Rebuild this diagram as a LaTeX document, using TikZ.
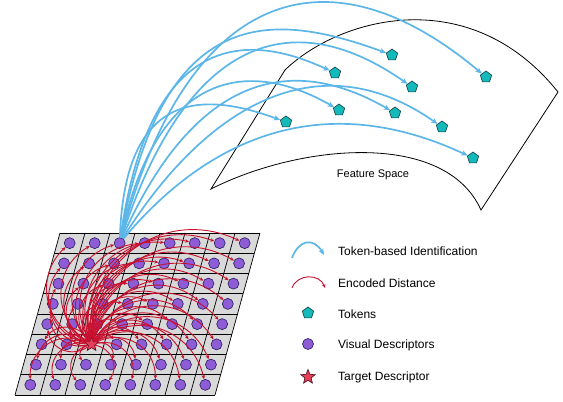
\documentclass[tikz,border=0pt]{standalone}
\usepackage{fontspec}
\setmainfont{Liberation Sans}
\usetikzlibrary{positioning, shapes.geometric, arrows.meta}

\definecolor{cellgray}{RGB}{217,217,217}
\definecolor{descpurple}{RGB}{142,92,214}
\definecolor{descline}{RGB}{40,30,90}
\definecolor{tokteal}{RGB}{20,185,185}
\definecolor{tokline}{RGB}{20,60,70}
\definecolor{tgtred}{RGB}{232,64,90}
\definecolor{tgtline}{RGB}{70,10,25}
\definecolor{identblue}{RGB}{92,182,232}
\definecolor{distred}{RGB}{200,16,46}

\begin{document}
\begin{tikzpicture}[x=1pt, y=1pt,
  descr/.style={circle, draw=descline, fill=descpurple, line width=0.6pt,
    minimum size=11pt, inner sep=0pt},
  token/.style={regular polygon, regular polygon sides=5, draw=tokline,
    fill=tokteal, line width=0.6pt, minimum size=12pt, inner sep=0pt},
  target/.style={star, star points=5, star point ratio=2.3, draw=tgtline,
    fill=tgtred, line width=0.6pt, minimum size=15pt, inner sep=0pt},
  ident/.style={draw=identblue, line width=1.7pt,
    -{Stealth[length=6.5pt,width=5.5pt]}},
  dist/.style={draw=distred, line width=0.9pt,
    -{Stealth[length=4pt,width=3.5pt]}},
  legtext/.style={anchor=west, inner sep=0pt, font=\fontsize{12}{14}\selectfont}
]
\useasboundingbox (0,0) rectangle (563,402);

% feature space
\draw[line width=0.8pt] (211,213) -- (285,332)
  .. controls (340,385) and (470,420) .. (558,310) -- (481,192)
  .. controls (445,272) and (300,258) .. (211,213) -- cycle;
\node[font=\fontsize{11}{13}\selectfont] (fslabel) at (373,227) {Feature Space};

% descriptor grid
\fill[cellgray] (15,7) -- (215,7) -- (260,169) -- (60,169) -- cycle;
\foreach \i in {0,...,8}
  \draw[line width=0.7pt] (15+25*\i,7) -- (60+25*\i,169);
\foreach \j in {0,...,8}
  \draw[line width=0.7pt] (15+5.625*\j,7+20.25*\j) -- (215+5.625*\j,7+20.25*\j);

\foreach \r in {0,...,7}
  \foreach \c in {0,...,7}{
    \ifnum\r\c=52\relax
      \node[target] (tgt) at ({15+25*(\c+0.5)+5.625*(7.5-\r)},{7+20.25*(7.5-\r)}) {};
    \else
      \node[descr] (d\r\c) at ({15+25*(\c+0.5)+5.625*(7.5-\r)},{7+20.25*(7.5-\r)}) {};
    \fi
  }

% encoded distances
\foreach \r in {0,...,7}
  \foreach \c in {0,...,7}{
    \pgfmathtruncatemacro\flip{(\r>4)&&(\c<3)}
    \ifnum\r\c=52\relax\else
      \ifnum\flip=1
        \draw[dist] (tgt) to[bend right=58, looseness=1.15] (d\r\c);
      \else
        \draw[dist] (tgt) to[bend left=58, looseness=1.15] (d\r\c);
      \fi
    \fi
  }

% tokens
\foreach \t/\xx/\yy in {t1/392/347, t2/335/329, t3/486/325, t4/412/315,
    t5/339/292, t6/395/289, t7/286/280, t8/442/275, t9/473/244}
  \node[token] (\t) at (\xx,\yy) {};

% token-based identification
\foreach \t/\o/\i/\a/\b in {t1/80/160/240/120, t2/82/155/200/100,
    t3/75/140/260/200, t4/72/145/200/150, t5/78/150/170/100,
    t6/66/150/160/130, t7/88/160/150/80, t8/58/145/150/150, t9/50/155/120/170}
  \draw[ident] (d02) to[out=\o, in=\i, out distance=\a pt, in distance=\b pt] (\t);

% legend
\coordinate (lb0) at (292,144);
\coordinate (lb1) at (324,147);
\draw[ident] (lb0) to[out=70, in=120, looseness=1.6] (lb1);
\coordinate (lr0) at (292,114);
\coordinate (lr1) at (325,114);
\draw[dist] (lr0) to[out=70, in=110, looseness=1.2] (lr1);
\node[token] (legtok) at (308,89) {};
\node[descr] (legdesc) at (308,58) {};
\node[target] (legtgt) at (308,25) {};

\node[legtext] (lt1) at (338,151) {Token-based Identification};
\node[legtext] (lt2) at (338,119) {Encoded Distance};
\node[legtext] (lt3) at (338,88) {Tokens};
\node[legtext] (lt4) at (338,57) {Visual Descriptors};
\node[legtext] (lt5) at (338,25) {Target Descriptor};
\end{tikzpicture}
\end{document}
